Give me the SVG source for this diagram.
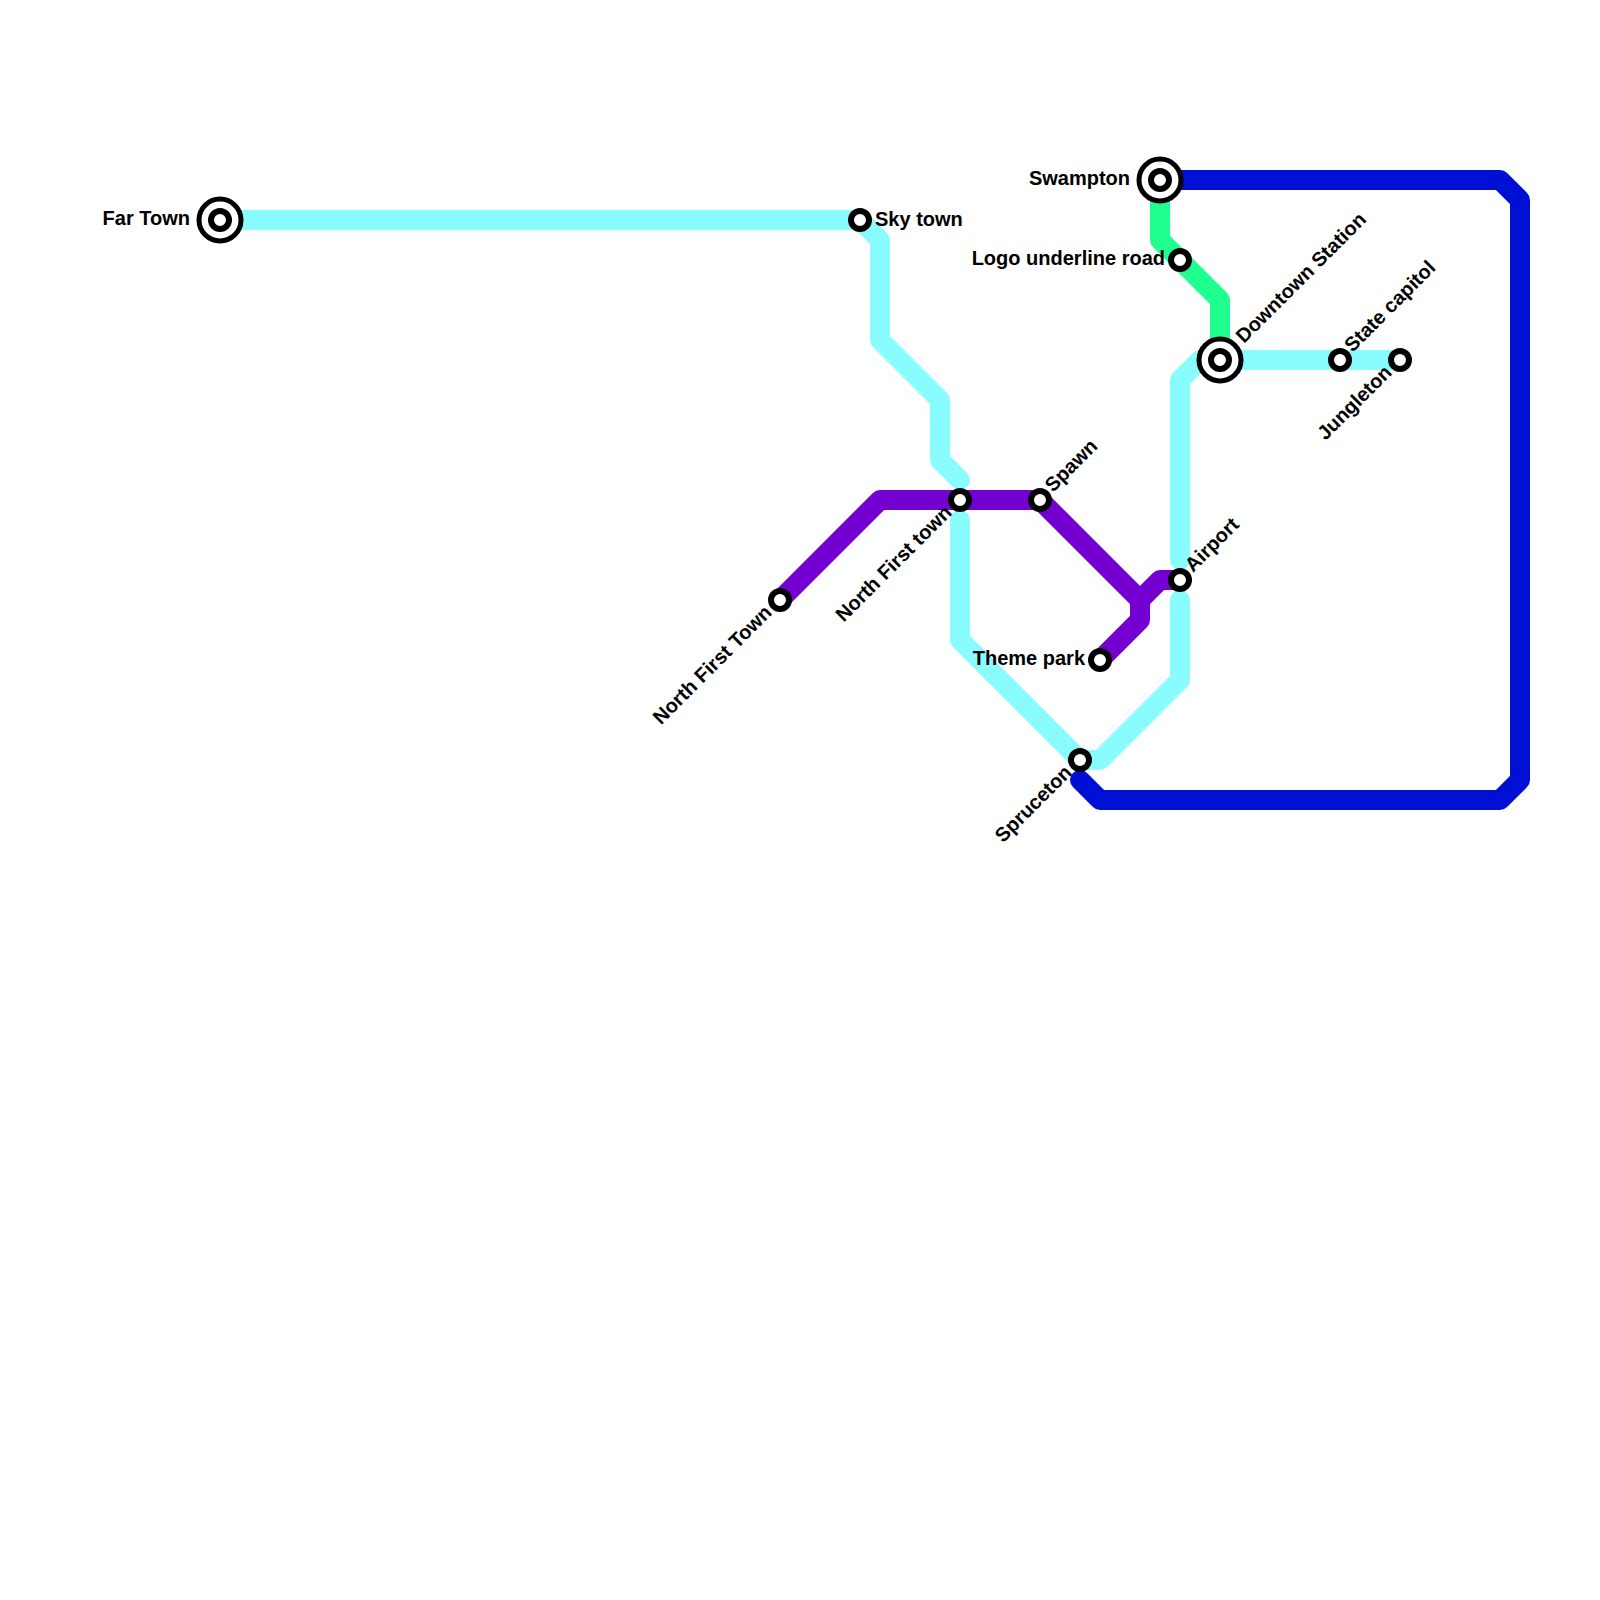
<svg xmlns="http://www.w3.org/2000/svg" width="1600" height="1600" viewBox="0 0 1600 1600">
<style>
.l{fill:none;stroke-width:20;stroke-linejoin:round;stroke-linecap:round}
.c{stroke:#88fcff}.b{stroke:#000fd4}.g{stroke:#1eff8f}.p{stroke:#7300d0}
.s{fill:#fff;stroke:#000;stroke-width:6}
.o{fill:#fff;stroke:#000;stroke-width:5}
text{font-family:"Liberation Sans",Arial,sans-serif;font-weight:bold;font-size:20px;fill:#000}
.e{text-anchor:end}
</style>
<rect width="1600" height="1600" fill="#fff"/>
<g id="connectors">
<path class="l c" d="M220 220H860L880 240V340L940 400V460L960 480"/>
<path class="l c" d="M960 520V640L1080 760H1100L1180 680V600"/>
<path class="l c" d="M1180 560V380L1200 360H1400"/>
<path class="l b" d="M1160 180H1500L1520 200V780L1500 800H1100L1080 780"/>
<path class="l g" d="M1160 180V240L1220 300V360"/>
<path class="l p" d="M780 600L880 500H1040L1140 600V620L1100 660"/>
<path class="l p" d="M1140 600L1160 580H1180"/>
</g>
<g id="far-town"><circle class="o" cx="220" cy="220" r="21"/><circle class="s" cx="220" cy="220" r="9"/><text class="e" x="190" y="225">Far Town</text></g>
<g id="sky-town"><circle class="s" cx="860" cy="220" r="9"/><text x="875" y="226">Sky town</text></g>
<g id="north-first-town-a"><circle class="s" cx="780" cy="600" r="9"/><text class="e" transform="translate(773 613.500) rotate(-45)">North First Town</text></g>
<g id="north-first-town-b"><circle class="s" cx="960" cy="500" r="9"/><text class="e" transform="translate(953 513.500) rotate(-45)">North First town</text></g>
<g id="spawn"><circle class="s" cx="1040" cy="500" r="9"/><text transform="translate(1053 493) rotate(-45)">Spawn</text></g>
<g id="airport"><circle class="s" cx="1180" cy="580" r="9"/><text transform="translate(1193 573) rotate(-45)">Airport</text></g>
<g id="theme-park"><circle class="s" cx="1100" cy="660" r="9"/><text class="e" x="1085" y="665">Theme park</text></g>
<g id="spruceton"><circle class="s" cx="1080" cy="760" r="9"/><text class="e" transform="translate(1073 773.500) rotate(-45)">Spruceton</text></g>
<g id="swampton"><circle class="o" cx="1160" cy="180" r="21"/><circle class="s" cx="1160" cy="180" r="9"/><text class="e" x="1130" y="185">Swampton</text></g>
<g id="logo-underline-road"><circle class="s" cx="1180" cy="260" r="9"/><text class="e" x="1165" y="265">Logo underline road</text></g>
<g id="downtown-station"><circle class="o" cx="1220" cy="360" r="21"/><circle class="s" cx="1220" cy="360" r="9"/><text transform="translate(1244 344) rotate(-45)">Downtown Station</text></g>
<g id="state-capitol"><circle class="s" cx="1340" cy="360" r="9"/><text transform="translate(1352.500 353) rotate(-45)">State capitol</text></g>
<g id="jungleton"><circle class="s" cx="1400" cy="360" r="9"/><text class="e" transform="translate(1393 373.500) rotate(-45)">Jungleton</text></g>
</svg>
